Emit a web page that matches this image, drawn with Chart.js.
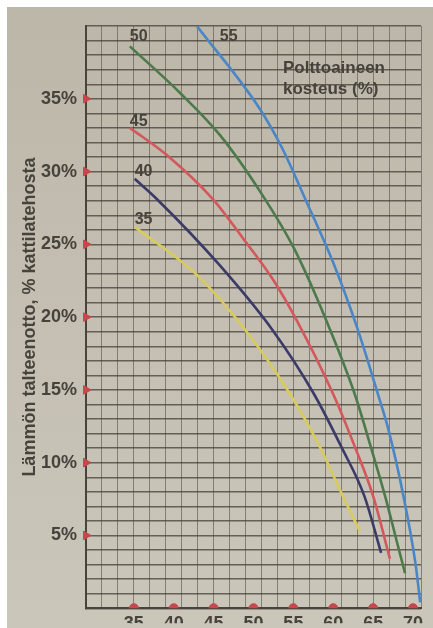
<!DOCTYPE html>
<html lang="fi">
<head>
<meta charset="utf-8">
<title>Lämmön talteenotto</title>
<script src="https://cdn.jsdelivr.net/npm/chart.js@4/dist/chart.umd.min.js"></script>
<style>
    html, body { margin: 0; padding: 0; background: #ffffff; }
    #wrap { position: relative; width: 433px; height: 628px; }
</style>
</head>
<body>
<div id="wrap"><canvas id="kosteusChart" width="433" height="628"></canvas></div>
<script>
// polttoaineen kosteus (%) -> käyrät, y = talteenotto % kattilatehosta
const curveNames = ["35", "40", "45", "50", "55"];

const xTickLabels = [35, 40, 45, 50, 55, 60, 65, 70];
const yTickLabels = [5, 10, 15, 20, 25, 30, 35];

const kosteus35 = [
    { x: 35.1, y: 26.2 }, { x: 42.9, y: 22.9 }, { x: 48.7, y: 19.3 },
    { x: 54.6, y: 14.7 }, { x: 58.3, y: 11.1 }, { x: 61.2, y: 7.7 },
    { x: 63.4, y: 5.2 },
];
const kosteus40 = [
    { x: 35.1, y: 29.5 }, { x: 37.9, y: 28.1 }, { x: 45.7, y: 23.6 },
    { x: 52.4, y: 19.1 }, { x: 57.6, y: 14.7 }, { x: 61.0, y: 11.1 },
    { x: 63.9, y: 7.7 }, { x: 66.0, y: 3.8 },
];
const kosteus45 = [
    { x: 34.5, y: 33.0 }, { x: 39.2, y: 31.1 }, { x: 44.9, y: 28.1 },
    { x: 48.7, y: 25.4 }, { x: 52.3, y: 22.7 }, { x: 55.4, y: 19.8 },
    { x: 60.0, y: 14.7 }, { x: 62.7, y: 11.1 }, { x: 65.0, y: 7.7 },
    { x: 67.1, y: 3.4 },
];
const kosteus50 = [
    { x: 34.5, y: 38.6 }, { x: 40.8, y: 35.4 }, { x: 45.8, y: 32.5 },
    { x: 51.1, y: 28.4 }, { x: 55.1, y: 24.7 }, { x: 59.1, y: 19.8 },
    { x: 62.7, y: 14.7 }, { x: 64.7, y: 11.1 }, { x: 66.5, y: 7.7 },
    { x: 68.1, y: 4.3 }, { x: 69.0, y: 2.4 },
];
const kosteus55 = [
    { x: 42.9, y: 40.0 }, { x: 50.8, y: 34.3 }, { x: 53.6, y: 31.6 },
    { x: 56.5, y: 28.1 }, { x: 60.1, y: 23.6 }, { x: 63.1, y: 19.1 },
    { x: 65.6, y: 14.7 }, { x: 66.9, y: 12.3 }, { x: 68.8, y: 7.7 },
    { x: 70.3, y: 3.1 }, { x: 70.9, y: 0.4 },
];

const X_MIN = 29;
const X_MAX = 71;
const Y_MIN = 0;
const Y_MAX = 40;

const TEXT = "#46423c";
const MARK = "#c8474c";
const FONT = "'Liberation Sans', Arial, sans-serif";

function curve(data, color, name, dx, dy) {
    return {
        type: "line",
        data: data,
        borderColor: color,
        backgroundColor: color,
        borderWidth: 2.6,
        pointRadius: 0,
        cubicInterpolationMode: "monotone",
        fill: false,
        curveLabel: name,
        labelDx: dx,
        labelDy: dy,
    };
}

// paperi tausta
const paperPlugin = {
    id: "paper",
    beforeDraw(chart) {
        const c = chart.ctx;
        const g = c.createLinearGradient(0, 0, 0, chart.height);
        g.addColorStop(0, "#bcb6a8");
        g.addColorStop(0.5, "#c4bfb2");
        g.addColorStop(1, "#cac6ba");
        c.save();
        c.fillStyle = g;
        c.fillRect(7, 7, chart.width - 7, chart.height - 7);
        c.restore();
    },
};

// käyrien numerot ja selite
const labelPlugin = {
    id: "curveLabels",
    afterDatasetsDraw(chart) {
        const c = chart.ctx;
        const area = chart.chartArea;
        c.save();
        c.fillStyle = TEXT;
        c.textAlign = "left";
        c.textBaseline = "alphabetic";
        c.font = "bold 16px " + FONT;
        chart.data.datasets.forEach(function (ds, i) {
            if (!ds.curveLabel) return;
            const first = chart.getDatasetMeta(i).data[0];
            if (!first) return;
            c.fillText(ds.curveLabel, first.x + ds.labelDx, first.y + ds.labelDy);
        });
        c.font = "bold 17px " + FONT;
        c.fillText("Polttoaineen", area.left + 197, area.top + 47);
        c.fillText("kosteus (%)", area.left + 197, area.top + 68);
        c.restore();
    },
};

const ctx = document.getElementById("kosteusChart").getContext("2d");

new Chart(ctx, {
    type: "line",
    data: {
        datasets: [
            curve(kosteus35, "#d8cb5e", curveNames[0], 0, -3),
            curve(kosteus40, "#3b3a68", curveNames[1], 0, -3),
            curve(kosteus45, "#d4575b", curveNames[2], 0, -2),
            curve(kosteus50, "#4c7a4a", curveNames[3], 0, -5),
            curve(kosteus55, "#4a86c6", curveNames[4], 23, 15),
            {
                type: "scatter",
                data: yTickLabels.map(function (v) { return { x: X_MIN, y: v }; }),
                pointStyle: "triangle",
                rotation: 90,
                pointRadius: 5,
                backgroundColor: MARK,
                borderColor: MARK,
                clip: false,
            },
            {
                type: "scatter",
                data: xTickLabels.map(function (v) { return { x: v, y: Y_MIN }; }),
                pointStyle: "circle",
                pointRadius: 4.5,
                backgroundColor: MARK,
                borderColor: MARK,
            },
        ],
    },
    options: {
        responsive: false,
        animation: false,
        events: [],
        layout: {
            padding: { left: 10, right: 12, top: 26, bottom: 0 },
        },
        plugins: {
            legend: { display: false },
            tooltip: { enabled: false },
        },
        scales: {
            x: {
                type: "linear",
                min: X_MIN,
                max: X_MAX,
                afterBuildTicks: function (scale) {
                    const ticks = [];
                    for (let v = X_MIN; v <= X_MAX; v++) ticks.push({ value: v });
                    scale.ticks = ticks;
                },
                afterFit: function (scale) {
                    scale.height = 15;
                },
                border: { display: true, color: "#48433d", width: 2 },
                grid: {
                    drawTicks: false,
                    lineWidth: 1,
                    color: function (c) {
                        const v = c.tick ? c.tick.value : 0;
                        return (v - X_MIN) % 2 === 0 ? "rgba(85,80,72,0.6)" : "rgba(0,0,0,0)";
                    },
                },
                ticks: {
                    autoSkip: false,
                    maxRotation: 0,
                    padding: 5,
                    color: TEXT,
                    font: { family: FONT, size: 18, weight: "bold" },
                    callback: function (v) {
                        return xTickLabels.indexOf(v) >= 0 ? String(v) : "";
                    },
                },
            },
            y: {
                type: "linear",
                min: Y_MIN,
                max: Y_MAX,
                afterBuildTicks: function (scale) {
                    const ticks = [];
                    for (let v = Y_MIN; v <= Y_MAX; v++) ticks.push({ value: v });
                    scale.ticks = ticks;
                },
                afterFit: function (scale) {
                    scale.width = 76;
                },
                border: { display: true, color: "#48433d", width: 2 },
                grid: {
                    drawTicks: false,
                    lineWidth: 1.4,
                    color: "rgba(62,57,50,0.72)",
                },
                ticks: {
                    autoSkip: false,
                    padding: 9,
                    color: TEXT,
                    font: { family: FONT, size: 18, weight: "bold" },
                    callback: function (v) {
                        return yTickLabels.indexOf(v) >= 0 ? v + "%" : "";
                    },
                },
                title: {
                    display: true,
                    text: "Lämmön talteenotto, % kattilatehosta",
                    color: TEXT,
                    padding: { top: 9, bottom: 0 },
                    font: { family: FONT, size: 18, weight: "bold" },
                },
            },
        },
    },
    plugins: [paperPlugin, labelPlugin],
});
</script>
</body>
</html>
